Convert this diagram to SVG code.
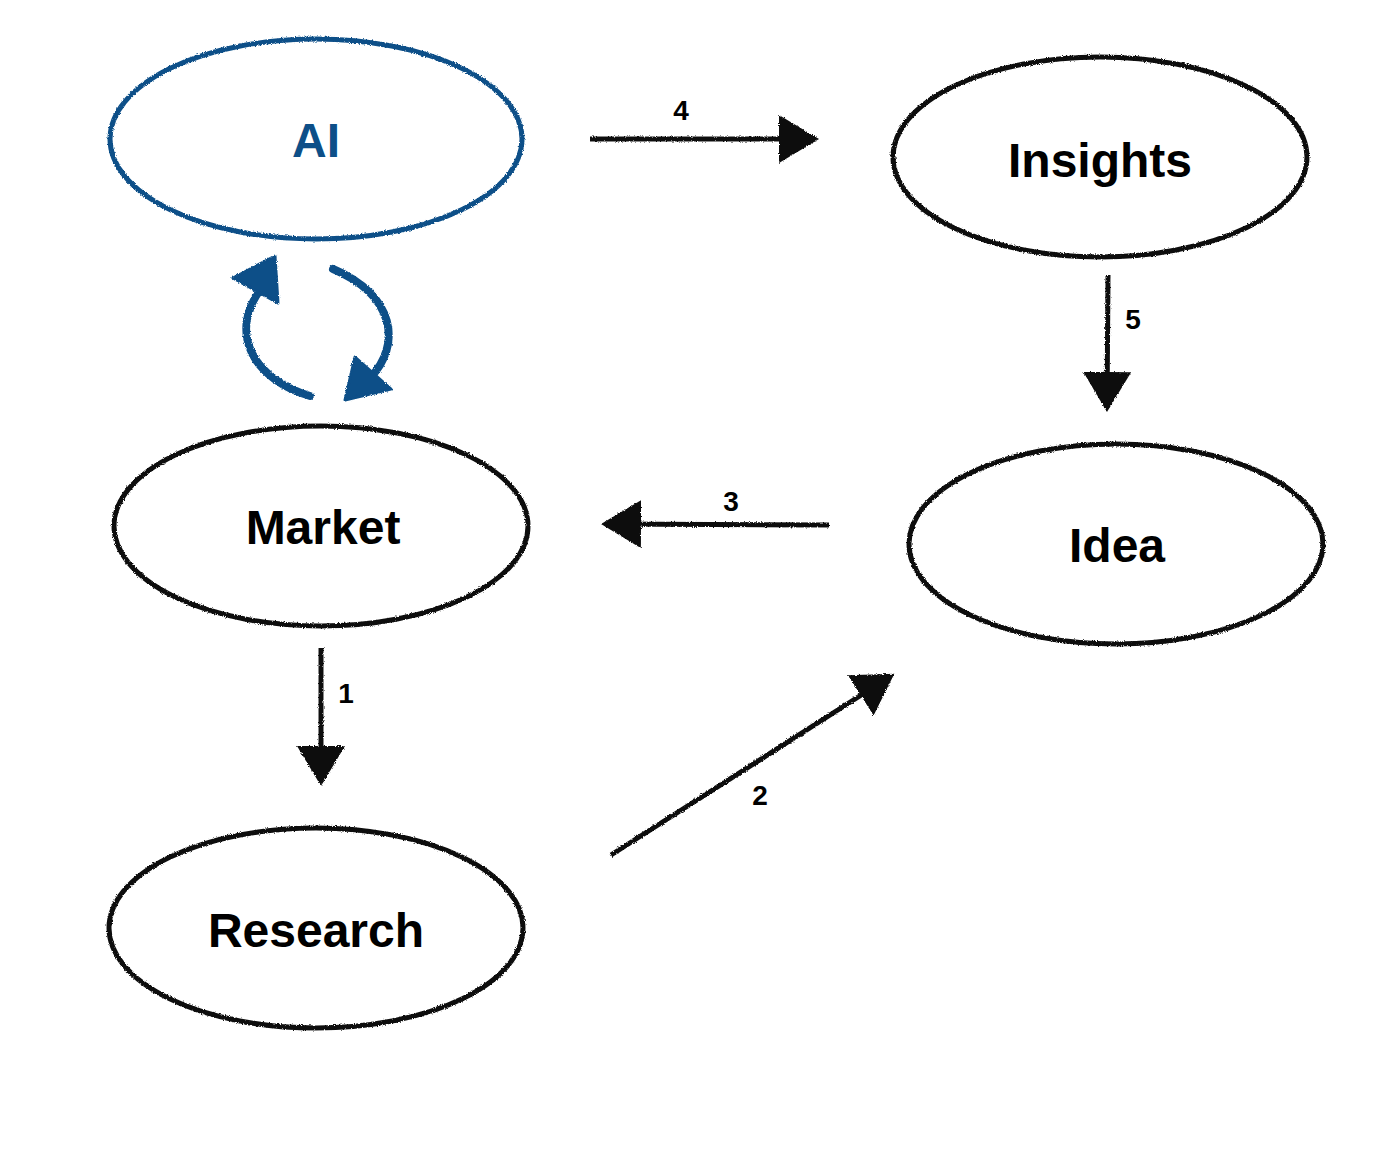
<svg xmlns="http://www.w3.org/2000/svg" width="1400" height="1149" viewBox="0 0 1400 1149">
<defs>
<filter id="rough" x="-10%" y="-10%" width="120%" height="120%">
<feTurbulence type="fractalNoise" baseFrequency="0.9" numOctaves="2" seed="3" result="n"/>
<feDisplacementMap in="SourceGraphic" in2="n" scale="3" xChannelSelector="R" yChannelSelector="G"/>
</filter>
<marker id="ah" markerUnits="userSpaceOnUse" markerWidth="44" markerHeight="50" refX="36" refY="24" orient="auto">
<path d="M0,0 L40,24 L0,48 Z" fill="#111"/>
</marker>
</defs>
<style>
.node{fill:none;stroke:#111;stroke-width:5}
.blue{stroke:#0d4f88}
.lbl{font-family:"Liberation Sans",Arial,sans-serif;font-weight:bold;font-size:48px;fill:#000;text-anchor:middle;dominant-baseline:central}
.num{font-family:"Liberation Sans",Arial,sans-serif;font-weight:bold;font-size:28px;fill:#000;text-anchor:middle;dominant-baseline:central}
.edge{fill:none;stroke:#111;stroke-width:5;marker-end:url(#ah)}
.bedge{fill:none;stroke:#0d4f88;stroke-width:8;stroke-linecap:round}
.bhead{fill:#0d4f88;stroke:#0d4f88;stroke-width:3;stroke-linejoin:round}
</style>
<rect width="1400" height="1149" fill="#fff"/>
<g id="node-ai">
<ellipse class="node blue" cx="316" cy="139" rx="206" ry="100" filter="url(#rough)"/>
<text class="lbl" x="316" y="140" style="fill:#0d4f88">AI</text>
</g>
<g id="node-insights">
<ellipse class="node" cx="1100" cy="157" rx="207" ry="100" filter="url(#rough)"/>
<text class="lbl" x="1100" y="160">Insights</text>
</g>
<g id="node-market">
<ellipse class="node" cx="321" cy="526" rx="207" ry="100" filter="url(#rough)"/>
<text class="lbl" x="323" y="527">Market</text>
</g>
<g id="node-idea">
<ellipse class="node" cx="1116" cy="544" rx="207" ry="100" filter="url(#rough)"/>
<text class="lbl" x="1117" y="545">Idea</text>
</g>
<g id="node-research">
<ellipse class="node" cx="316" cy="928" rx="207" ry="100" filter="url(#rough)"/>
<text class="lbl" x="316" y="930">Research</text>
</g>
<g id="connectors" filter="url(#rough)">
<path class="edge" d="M590,139 L815,139"/>
<path class="edge" d="M1108,275 L1107,408"/>
<path class="edge" d="M829,525 L605,524"/>
<path class="edge" d="M321,648 L321,782"/>
<path class="edge" d="M611,855 L891,676"/>
<path class="bedge" d="M310,396 C255,380 228,335 260,290"/>
<polygon class="bhead" points="275,256 233,278 278,303"/>
<path class="bedge" d="M333,269 C395,295 402,345 370,378"/>
<polygon class="bhead" points="355,357 391,389 345,400"/>
</g>
<g id="labels">
<text class="num" x="681" y="110">4</text>
<text class="num" x="1133" y="319">5</text>
<text class="num" x="731" y="501">3</text>
<text class="num" x="346" y="693">1</text>
<text class="num" x="760" y="795">2</text>
</g>
</svg>
